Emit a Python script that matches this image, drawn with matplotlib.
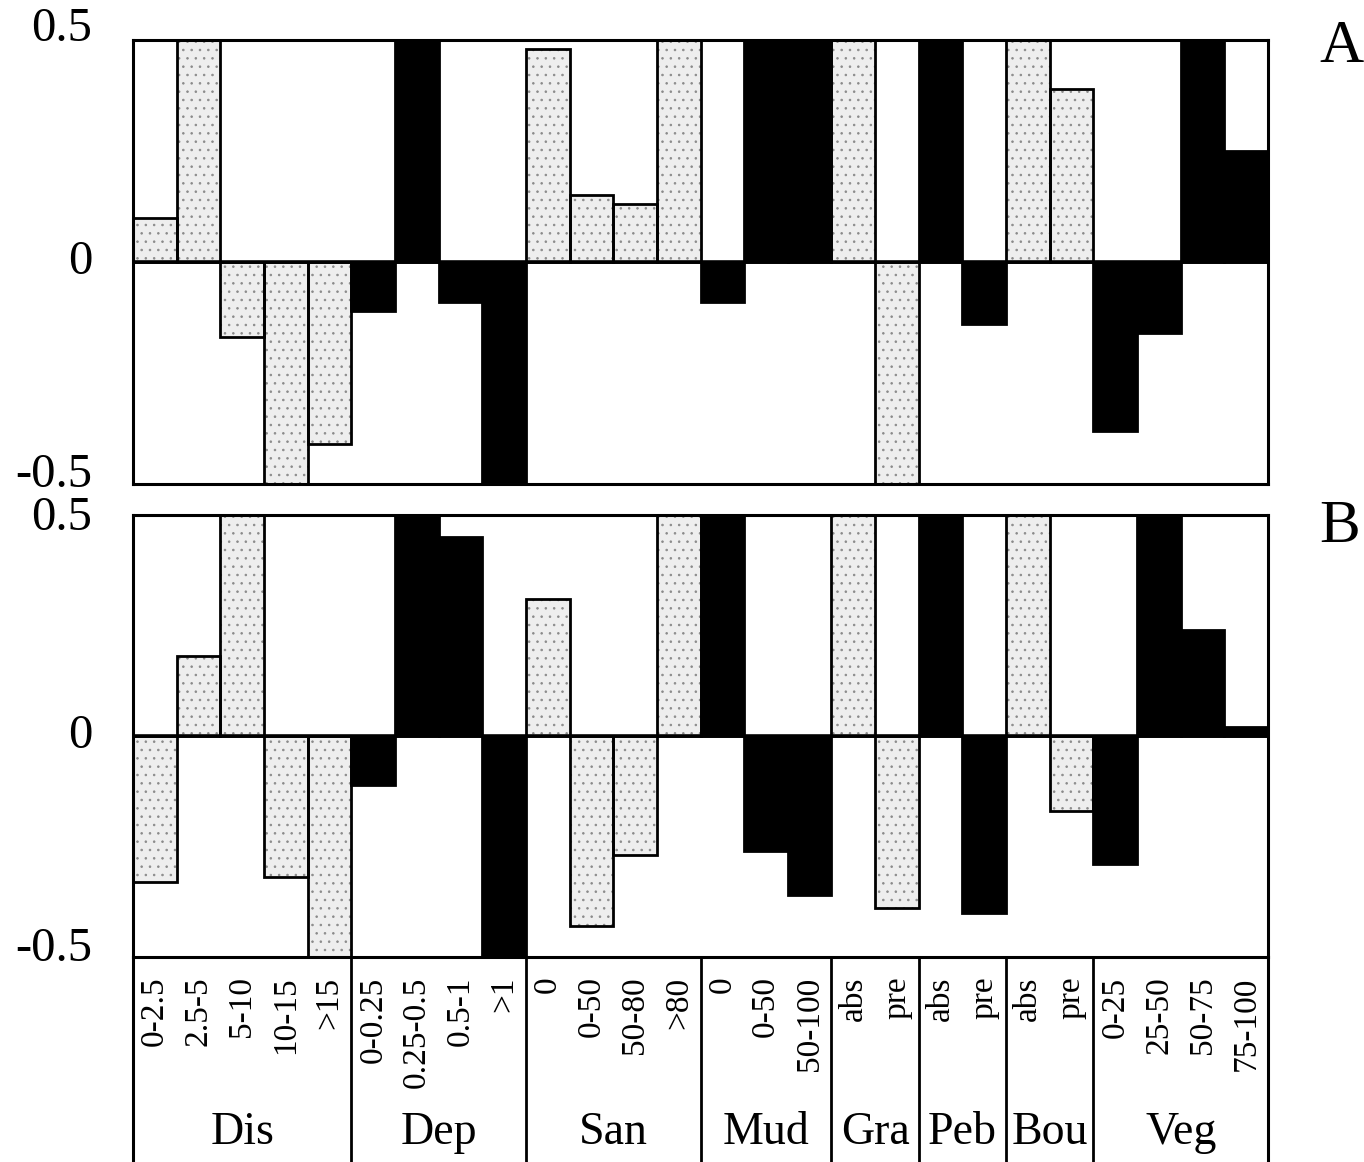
import matplotlib.pyplot as plt
import numpy as np

plt.rcParams['font.family'] = ['Liberation Serif', 'DejaVu Serif']
plt.rcParams['hatch.linewidth'] = 0.6

# variables and their classes
group_names = ['Dis', 'Dep', 'San', 'Mud', 'Gra', 'Peb', 'Bou', 'Veg']
group_sizes = [5, 4, 4, 3, 2, 2, 2, 4]
group_fill = ['stipple', 'black', 'stipple', 'black', 'stipple', 'black', 'stipple', 'black']
class_labels = ['0-2.5', '2.5-5', '5-10', '10-15', '>15',
                '0-0.25', '0.25-0.5', '0.5-1', '>1',
                '0', '0-50', '50-80', '>80',
                '0', '0-50', '50-100',
                'abs', 'pre',
                'abs', 'pre',
                'abs', 'pre',
                '0-25', '25-50', '50-75', '75-100']

# panel A values
values_a = np.array([0.10, 0.50, -0.17, -0.50, -0.41,
                     -0.11, 0.50, -0.09, -0.50,
                     0.48, 0.15, 0.13, 0.50,
                     -0.09, 0.50, 0.50,
                     0.50, -0.50,
                     0.50, -0.14,
                     0.50, 0.39,
                     -0.38, -0.16, 0.50, 0.25])

# panel B values
values_b = np.array([-0.33, 0.18, 0.50, -0.32, -0.50,
                     -0.11, 0.50, 0.45, -0.50,
                     0.31, -0.43, -0.27, 0.50,
                     0.50, -0.26, -0.36,
                     0.50, -0.39,
                     0.50, -0.40,
                     0.50, -0.17,
                     -0.29, 0.50, 0.24, 0.02])

ytick_vals = [0.5, 0, -0.5]
ytick_labels = ['0.5', '0', '-0.5']

n = len(class_labels)
x = np.arange(n) + 0.5
stip = np.repeat([f == 'stipple' for f in group_fill], group_sizes)
bounds = np.cumsum(group_sizes)

W, H = 1364, 1162
fig = plt.figure(figsize=(W / 100, H / 100), dpi=100)
left, width = 133 / W, 1135 / W
ax_a = fig.add_axes([left, 1 - 484 / H, width, 444 / H])
ax_b = fig.add_axes([left, 1 - 957 / H, width, 442 / H])
ax_t = fig.add_axes([left, 0, width, 1 - 957 / H])


def draw_panel(ax, vals, yoffs):
    ax.bar(x[stip], vals[stip], width=1, color='#eeeeee', edgecolor='#8a8a8a',
           lw=0, hatch='..', zorder=1)
    ax.bar(x[~stip], vals[~stip], width=1, color='black', lw=0, zorder=1)
    ax.bar(x, vals, width=1, fill=False, edgecolor='black', lw=2, zorder=2)
    ax.axhline(0, color='black', lw=2.6, zorder=3)
    ax.set_xlim(0, n)
    ax.set_ylim(-0.5, 0.5)
    for s in ax.spines.values():
        s.set_linewidth(2.2)
        s.set_zorder(4)
    ax.set_yticks([])
    ax.tick_params(axis='x', length=0)
    # y labels, nudged like the original
    for v, lab, dy in zip(ytick_vals, ytick_labels, yoffs):
        ax.text(-0.036, v + dy, lab, transform=ax.get_yaxis_transform(),
                ha='right', va='center', fontsize=35)


draw_panel(ax_a, values_a, [0.025, 0, 0.02])
draw_panel(ax_b, values_b, [-0.007, 0, 0.018])
ax_a.set_xticks([])
ax_b.set_xticks(x)
ax_b.set_xticklabels(class_labels, rotation=90, fontsize=24, va='top')
ax_b.tick_params(axis='x', pad=14)

# label table under panel B
ax_t.patch.set_visible(False)
ax_t.set_xlim(0, n)
ax_t.set_ylim(0, 1)
ax_t.set_xticks([])
ax_t.set_yticks([])
ax_t.spines['top'].set_visible(False)
ax_t.spines['bottom'].set_visible(False)
ax_t.spines['left'].set_linewidth(2.2)
ax_t.spines['right'].set_linewidth(2.2)
ax_t.vlines(bounds[:-1], 0, 1, color='black', lw=2)
centers = bounds - np.array(group_sizes) / 2
for c, name in zip(centers, group_names):
    ax_t.text(c, 0.09, name, ha='center', va='baseline', fontsize=33)

fig.text(1342 / W, 1 - 47 / H, 'A', ha='center', va='center', fontsize=44)
fig.text(1340 / W, 1 - 527 / H, 'B', ha='center', va='center', fontsize=44)

fig.savefig('out.png', dpi=100)
